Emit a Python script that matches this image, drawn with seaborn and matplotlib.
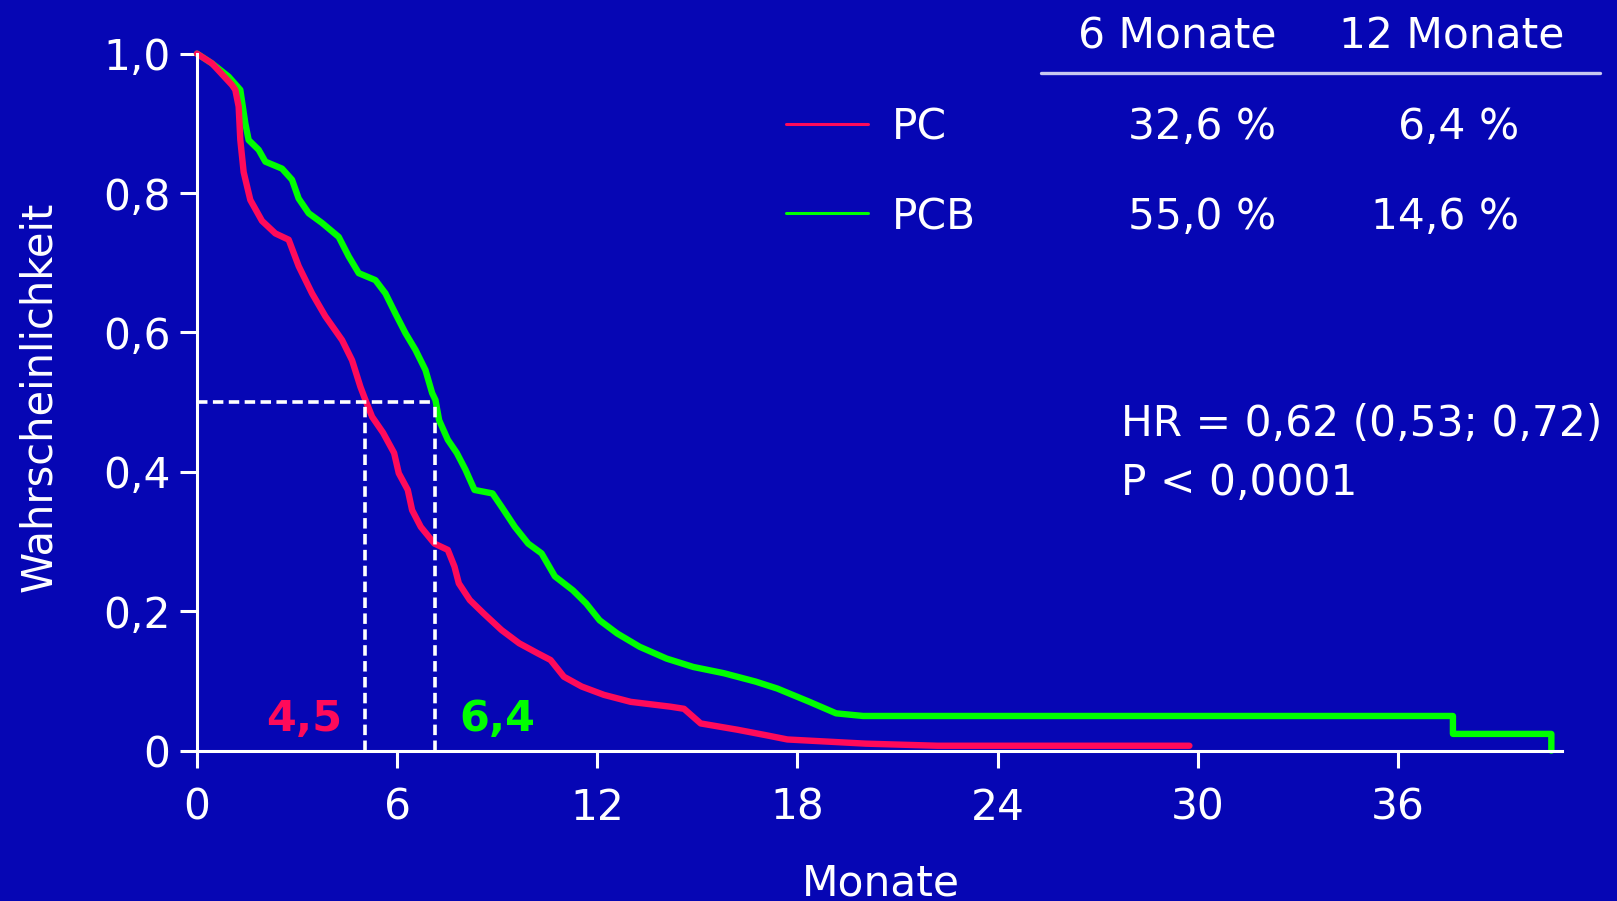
import pandas as pd
import seaborn as sns
import matplotlib.pyplot as plt

# Kaplan-Meier curves (months, probability)
pc_months = [0, 0.45, 1.05, 1.15, 1.25, 1.3, 1.4, 1.6, 1.95, 2.35, 2.75, 3.05, 3.45, 3.85,
             4.35, 4.65, 4.9, 5.05, 5.25, 5.58, 5.91, 6.05, 6.32, 6.45, 6.71, 7.12, 7.52,
             7.72, 7.85, 8.18, 8.59, 9.13, 9.66, 10.2, 10.6, 11.0, 11.53, 12.2, 13.0, 14.2,
             14.6, 15.1, 16.2, 17.07, 17.7, 20.05, 22.2, 29.75]
pc_surv = [1.0, 0.986, 0.955, 0.948, 0.924, 0.876, 0.83, 0.79, 0.76, 0.742, 0.733, 0.695,
           0.656, 0.623, 0.589, 0.56, 0.522, 0.503, 0.479, 0.456, 0.427, 0.398, 0.374, 0.345,
           0.321, 0.297, 0.288, 0.264, 0.240, 0.216, 0.197, 0.173, 0.154, 0.140, 0.130,
           0.106, 0.092, 0.080, 0.070, 0.063, 0.060, 0.039, 0.030, 0.022, 0.016, 0.010,
           0.007, 0.007]

pcb_months = [0, 0.45, 0.95, 1.3, 1.45, 1.55, 1.85, 2.05, 2.55, 2.85, 3.05, 3.35, 3.75, 4.25,
              4.55, 4.85, 5.35, 5.65, 5.95, 6.25, 6.55, 6.85, 7.05, 7.15, 7.26, 7.52, 7.79,
              8.05, 8.32, 8.86, 9.13, 9.53, 9.93, 10.33, 10.73, 11.27, 11.67, 12.07, 12.6,
              13.27, 14.08, 14.88, 15.8, 16.75, 17.4, 18.36, 19.16, 19.97, 37.65, 37.65,
              40.6, 40.6]
pcb_surv = [1.0, 0.986, 0.967, 0.948, 0.9, 0.876, 0.862, 0.845, 0.835, 0.819, 0.792, 0.771,
            0.757, 0.737, 0.709, 0.685, 0.675, 0.656, 0.627, 0.599, 0.575, 0.546, 0.513,
            0.503, 0.474, 0.446, 0.427, 0.403, 0.374, 0.369, 0.350, 0.321, 0.297, 0.283,
            0.250, 0.230, 0.211, 0.187, 0.168, 0.149, 0.132, 0.120, 0.111, 0.099, 0.089,
            0.070, 0.0535, 0.0497, 0.0497, 0.024, 0.024, 0.0]

arm_names = ['PC', 'PCB']
arm_colors = {'PC': '#FF0A5A', 'PCB': '#00FF00'}
median_drawn = [5.05, 7.15]      # where the dashed guides sit on the chart
median_labels = ['4,5', '6,4']
table_cols = ['6 Monate', '12 Monate']
table_rows = [['32,6 %', '6,4 %'], ['55,0 %', '14,6 %']]
hr_lines = ['HR = 0,62 (0,53; 0,72)', 'P < 0,0001']
x_ticks = [0, 6, 12, 18, 24, 30, 36]
y_ticks = [0, 0.2, 0.4, 0.6, 0.8, 1.0]
y_ticklabels = ['0', '0,2', '0,4', '0,6', '0,8', '1,0']

bg = '#0606B4'
sns.set_theme(style='ticks', rc={'figure.facecolor': bg, 'axes.facecolor': bg,
                                 'savefig.facecolor': bg, 'text.color': 'white'})
plt.rcParams['font.family'] = ['DejaVu Sans']
fs = 30.5

fig = plt.figure(figsize=(16.17, 9.01), dpi=100)
ax = fig.add_axes([0.1218, 0.1669, 0.8442, 0.7736])

df = pd.concat([
    pd.DataFrame({'months': pc_months, 'surv': pc_surv, 'arm': 'PC'}),
    pd.DataFrame({'months': pcb_months, 'surv': pcb_surv, 'arm': 'PCB'}),
])

# PCB first so PC lies on top
sns.lineplot(data=df, x='months', y='surv', hue='arm', hue_order=['PCB', 'PC'],
             palette=arm_colors, estimator=None, sort=False, legend=False,
             lw=4.6, clip_on=False, ax=ax)

# median guides
dash = (0, (2.9, 1.5))
ax.plot([0, median_drawn[1]], [0.5, 0.5], color='white', lw=2.6, ls=dash)
for m in median_drawn:
    ax.plot([m, m], [0, 0.5], color='white', lw=2.6, ls=dash)
ax.text(3.2, 0.046, median_labels[0], color=arm_colors['PC'], fontsize=31,
        fontweight='bold', ha='center', va='center')
ax.text(9.0, 0.046, median_labels[1], color=arm_colors['PCB'], fontsize=31,
        fontweight='bold', ha='center', va='center')

ax.set_xlim(0, 40.92)
ax.set_ylim(0, 1.0)
ax.set_xticks(x_ticks)
ax.set_xticklabels([str(v) for v in x_ticks])
ax.set_yticks(y_ticks)
ax.set_yticklabels(y_ticklabels)
ax.tick_params(colors='white', labelsize=fs, length=12, width=2.2)
ax.tick_params(axis='x', pad=14)
ax.tick_params(axis='y', pad=7)
for side in ['top', 'right']:
    ax.spines[side].set_visible(False)
for side in ['left', 'bottom']:
    ax.spines[side].set_color('white')
    ax.spines[side].set_linewidth(2.2)

ax.set_ylabel('')
ax.set_xlabel('Monate', color='white', fontsize=fs, va='baseline')
ax.xaxis.set_label_coords(0.501, -0.2085)
fig.text(0.0241, 0.5594, 'Wahrscheinlichkeit', color='white', fontsize=30,
         rotation=90, ha='center', va='center')

# table in the upper right
fig.text(0.7279, 0.959, table_cols[0], fontsize=fs, ha='center', va='center')
fig.text(0.8980, 0.959, table_cols[1], fontsize=fs, ha='center', va='center')
ax.plot([0.6438, 0.9895], [0.919, 0.919], color='#C8C8F0', lw=2.4,
        transform=fig.transFigure, clip_on=False)

row_y = [0.8627, 0.7631]
for name, y, vals in zip(arm_names, row_y, table_rows):
    ax.plot([0.486, 0.537], [y, y], color=arm_colors[name], lw=2.2,
            transform=fig.transFigure, clip_on=False)
    fig.text(0.5516, y - 0.004, name, fontsize=fs, ha='left', va='center')
    fig.text(0.7891, y - 0.004, vals[0], fontsize=fs, ha='right', va='center')
    fig.text(0.9394, y - 0.004, vals[1], fontsize=fs, ha='right', va='center')

fig.text(0.6933, 0.5292, hr_lines[0], fontsize=fs, ha='left', va='center')
fig.text(0.6933, 0.4638, hr_lines[1], fontsize=fs, ha='left', va='center')

fig.savefig('out.png', dpi=100)
